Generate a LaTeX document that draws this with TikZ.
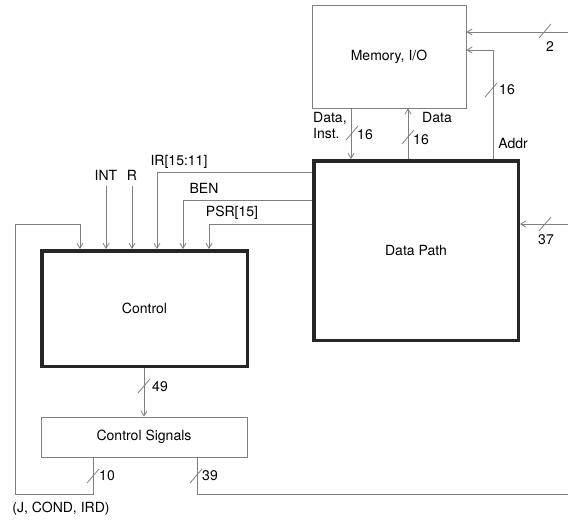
\documentclass[tikz,border=0pt]{standalone}
\usepackage{fontspec}
\setmainfont{TeX Gyre Heros}
\usetikzlibrary{calc,arrows.meta}
\definecolor{linegray}{gray}{0.5}
\tikzstyle{sig}=[draw=linegray,line width=0.8pt]
\tikzstyle{sigin}=[sig,-{Straight Barb[length=5pt,width=6pt]}]
\tikzstyle{thinblock}=[draw=linegray,line width=0.8pt,inner sep=0pt]
\tikzstyle{thickblock}=[draw=black!85,line width=3.5pt,inner sep=0pt]
\tikzstyle{lbl}=[inner sep=0pt,font=\fontsize{14}{16}\selectfont]
% bus width: slash across the wire and its number
\newcommand{\busmark}[3]{
\draw[sig] ($#1+(-6,7)$) -- ($#1+(6,-7)$);
\node[lbl] at #2 {#3};
}

\begin{document}
\begin{tikzpicture}[
x=1pt,y=-1pt,
font=\fontsize{14}{16}\selectfont
]
\useasboundingbox (0,0) rectangle (568,523);
%blocks
\node[thinblock,minimum width=154pt,minimum height=103pt] (mem) at (389,56.5) {Memory, I/O};
\node[thickblock,minimum width=204.5pt,minimum height=179.5pt] (dp) at (416,250.5) {Data Path};
\node[thickblock,minimum width=205.5pt,minimum height=115.5pt] (ctrl) at (144.5,308.5) {Control};
\node[thinblock,minimum width=206pt,minimum height=40pt] (sigs) at (144,437) {Control Signals};
%free ends
\coordinate (in2) at (568,32);
\coordinate (in37) at (568,224);
\coordinate (intin) at (106,186);
\coordinate (rin) at (132,186);
\coordinate (out39) at (568,494);
%memory and data path
\draw[sigin] (in2) -- (in2 -| mem.east);
\draw[sigin] (493,0 |- dp.north) -- (493,50) -- (mem.east |- 0,50);
\draw[sigin] (351,0 |- mem.south) -- (351,0 |- dp.north);
\draw[sigin] (408,0 |- dp.north) -- (408,0 |- mem.south);
\draw[sigin] (in37) -- (in37 -| dp.east);
\busmark{(545,31)}{(550,47)}{2}
\busmark{(491,90)}{(507,90)}{16}
\busmark{(352,133)}{(365,135)}{16}
\busmark{(408,137)}{(421,140)}{16}
\busmark{(545,224)}{(546,240)}{37}
\node[lbl,align=left,anchor=west] (dilbl) at (313,125) {Data,\\Inst.};
\node[lbl] (datalbl) at (437,117) {Data};
\node[lbl] (addrlbl) at (513,143) {Addr};
%inputs of control
\draw[sigin] (intin) -- (intin |- ctrl.north);
\draw[sigin] (rin) -- (rin |- ctrl.north);
\draw[sigin] (dp.west |- 0,172) -- (157,172) -- (157,0 |- ctrl.north);
\draw[sigin] (dp.west |- 0,200) -- (183,200) -- (183,0 |- ctrl.north);
\draw[sigin] (dp.west |- 0,224) -- (209,224) -- (209,0 |- ctrl.north);
\node[lbl] (intlbl) at (106,175) {INT};
\node[lbl] (rlbl) at (132,175) {R};
\node[lbl] (irlbl) at (179,162) {IR[15:11]};
\node[lbl] (benlbl) at (204,188) {BEN};
\node[lbl] (psrlbl) at (232,213) {PSR[15]};
%control signals
\draw[sigin] (144,0 |- ctrl.south) -- (144,0 |- sigs.north);
\busmark{(144,386)}{(160,387)}{49}
\draw[sigin] (93,0 |- sigs.south) -- (93,494) -- (15,494) -- (15,224) -- (80,224) -- (80,0 |- ctrl.north);
\draw[sig] (197,0 |- sigs.south) -- (197,494) -- (out39);
\busmark{(93,476)}{(107,476)}{10}
\busmark{(196,476)}{(210,476)}{39}
\node[lbl] (jlbl) at (61,509) {(J, COND, IRD)};
\end{tikzpicture}
\end{document}
